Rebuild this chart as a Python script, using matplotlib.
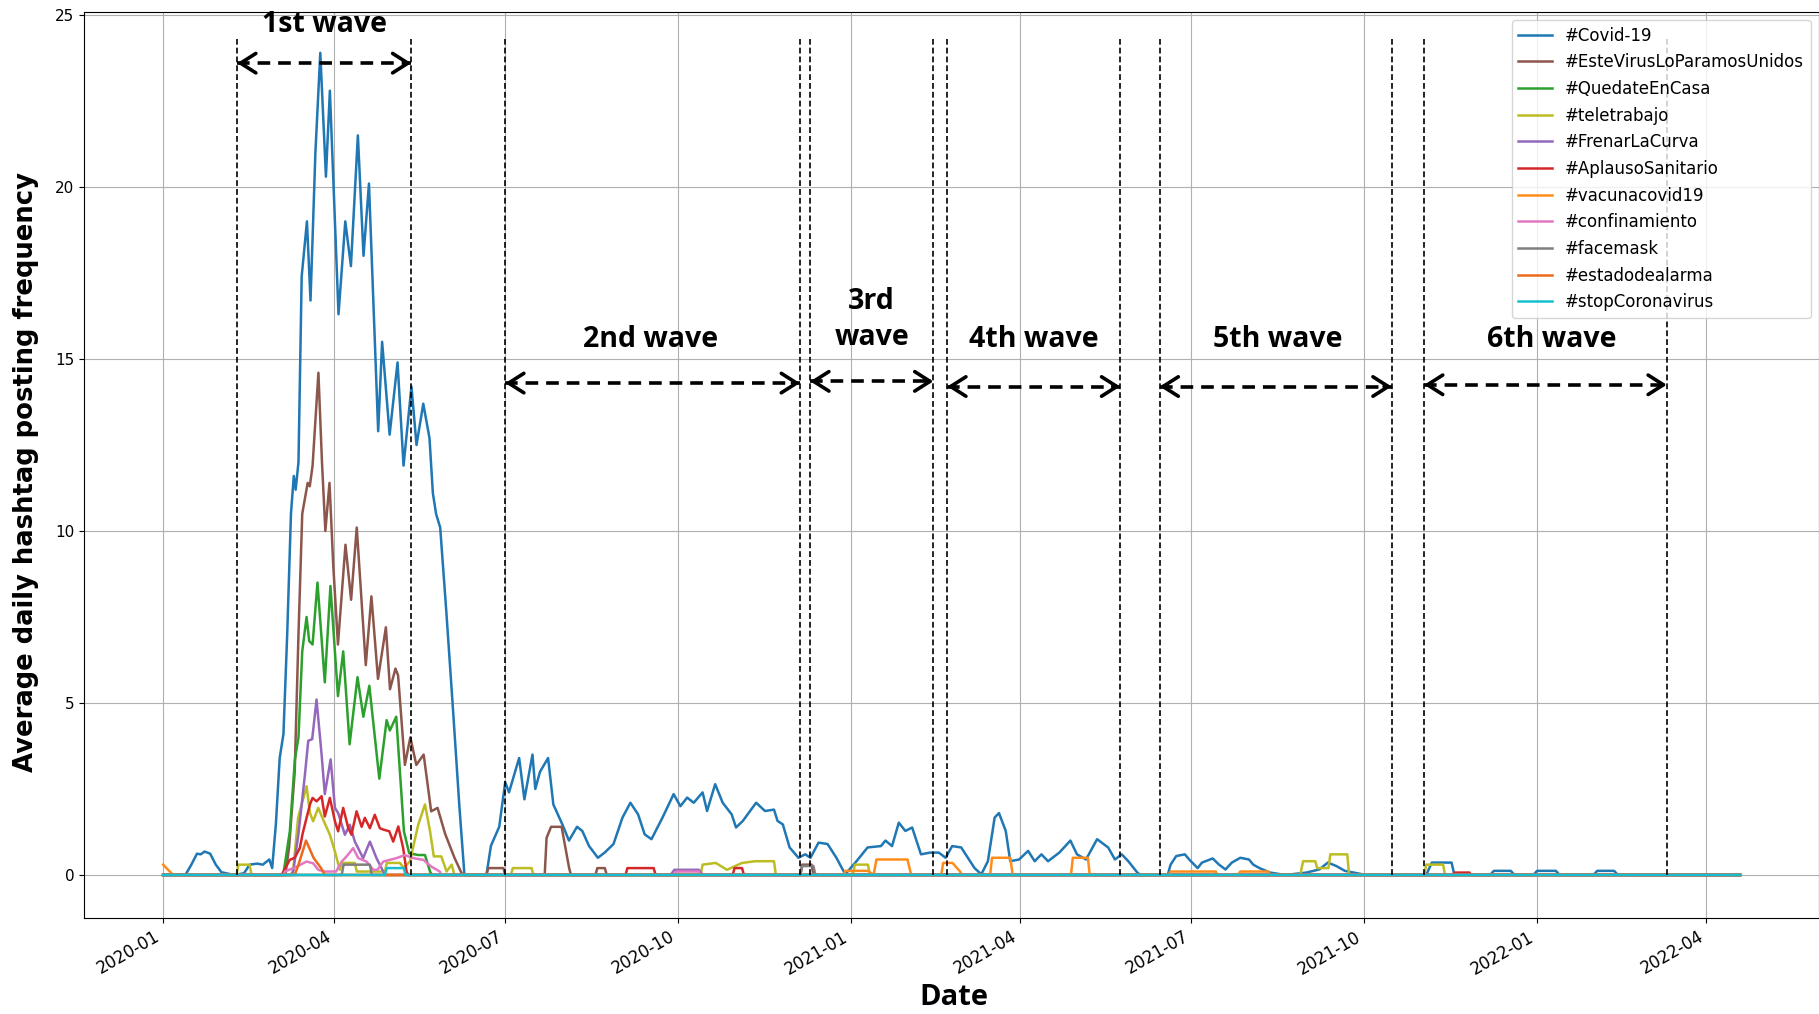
import matplotlib
matplotlib.use("Agg")
import matplotlib.pyplot as plt
import matplotlib.dates as mdates
import numpy as np
import pandas as pd

plt.rcParams['font.family'] = ['DejaVu Sans']

# data: (day since 2020-01-01, average daily frequency)
covid = [(0, 0.0), (12, 0.02), (15, 0.3), (18, 0.62), (20, 0.6), (22, 0.68), (25, 0.62), (28, 0.3),
         (31, 0.08), (36, 0.02), (40, 0.02), (43, 0.05), (46, 0.3), (50, 0.33), (53, 0.3), (56.5, 0.45),
         (58, 0.2), (60, 1.5), (62, 3.4), (64, 4.1), (66, 7.0), (68, 10.5), (69.5, 11.6), (70.5, 11.2),
         (72, 12.0), (73.7, 17.4), (76.5, 19.0), (78.4, 16.7), (81, 21.0), (83.6, 23.9), (86.6, 20.3),
         (88.7, 22.8), (93.3, 16.3), (96.9, 19.0), (99.9, 17.7), (103.6, 21.5), (106.6, 18.0),
         (109.5, 20.1), (114.4, 12.9), (116.5, 15.5), (120.5, 12.8), (124.7, 14.9), (127.9, 11.9),
         (132.1, 14.2), (134.8, 12.5), (138.4, 13.7), (141.7, 12.7), (143.5, 11.1), (145.2, 10.5),
         (147.4, 10.1), (150.6, 7.7), (154.1, 4.9), (157.6, 2.0), (160.3, 0.0), (172, 0.0),
         (174.4, 0.85), (178.8, 1.4), (182, 2.7), (184, 2.4), (189.4, 3.4), (192.2, 2.2), (196.5, 3.5),
         (198, 2.5), (200.5, 3.0), (204.8, 3.4), (207.6, 2.05), (212.4, 1.47), (215.9, 1.0), (220.2, 1.4),
         (223, 1.28), (226.6, 0.84), (231.3, 0.5), (234.9, 0.65), (239.6, 0.9), (244.4, 1.67),
         (248.6, 2.1), (252.7, 1.76), (256.2, 1.18), (259.8, 1.04), (265.7, 1.67), (271.6, 2.35),
         (275.2, 2.0), (278.8, 2.25), (282.3, 2.1), (287, 2.4), (289.4, 1.86), (293.7, 2.64),
         (297.7, 2.1), (302.5, 1.76), (304.8, 1.38), (308.4, 1.57), (315.5, 2.1), (320.2, 1.86),
         (325, 1.9), (326.9, 1.57), (329.7, 1.47), (333.3, 0.8), (338, 0.5), (341.6, 0.6), (344.4, 0.5),
         (348.7, 0.94), (353.5, 0.9), (358.2, 0.5), (362.9, 0.02), (368.9, 0.4), (374.8, 0.8),
         (381.9, 0.84), (384.3, 1.0), (387.8, 0.84), (391.4, 1.52), (394.9, 1.28), (398.5, 1.38),
         (403.2, 0.6), (408, 0.65), (412.7, 0.65), (416.3, 0.5), (419.8, 0.84), (424.6, 0.8),
         (431.7, 0.2), (435.3, 0.02), (438.8, 0.4), (442.4, 1.67), (444.7, 1.8), (448.3, 1.28),
         (450.7, 0.4), (455.4, 0.45), (460.2, 0.7), (463.7, 0.4), (467.3, 0.6), (470.8, 0.4),
         (476.8, 0.65), (482.7, 1.0), (486.2, 0.6), (491, 0.45), (496.9, 1.04), (502.8, 0.8),
         (506.4, 0.45), (510, 0.6), (513.5, 0.4), (518.3, 0.07), (520, 0.0), (534.5, 0.0), (536, 0.3),
         (539, 0.55), (543.6, 0.6), (545.9, 0.45), (550.4, 0.2), (552.7, 0.36), (558.4, 0.48),
         (561.8, 0.3), (565.2, 0.16), (568.6, 0.36), (573.1, 0.5), (577.7, 0.45), (580, 0.3),
         (583.3, 0.2), (589, 0.07), (597, 0.0), (608.3, 0.07), (615.1, 0.16), (619.7, 0.36),
         (624.2, 0.26), (628.7, 0.12), (633.3, 0.07), (637.8, 0.02), (640, 0.0), (672, 0.0),
         (675, 0.36), (685.5, 0.36), (687, 0.0), (706, 0.0), (708, 0.12), (717, 0.12), (719, 0.0),
         (729, 0.0), (731, 0.12), (741, 0.12), (743, 0.0), (761, 0.0), (763, 0.12), (772, 0.12),
         (774, 0.0), (839, 0.0)]

este_virus = [(0, 0), (65, 0), (67, 0.8), (70, 3.0), (72, 7.0), (74, 10.5), (76.9, 11.4), (78, 11.3),
              (79.5, 11.9), (82.6, 14.6), (84.5, 12.0), (86.3, 10.0), (88.5, 11.4), (90.5, 9.0),
              (93, 6.7), (97, 9.6), (100, 8.0), (103, 10.1), (107.8, 6.1), (110.8, 8.1), (114.3, 5.7),
              (118.5, 7.2), (120.7, 5.4), (123.6, 6.0), (125, 5.8), (128.6, 3.2), (131.5, 4.0),
              (134.7, 3.2), (138.6, 3.5), (142.6, 1.85), (146, 1.95), (150, 1.2), (155, 0.5),
              (158.8, 0.05), (160, 0), (172, 0), (173, 0.2), (181, 0.2), (182, 0), (203, 0),
              (204, 1.08), (206.4, 1.4), (212, 1.4), (216, 0.2), (217, 0), (230, 0), (231, 0.2),
              (235, 0.2), (236, 0), (339, 0), (340, 0.3), (345, 0.3), (346, 0), (839, 0)]

quedate = [(0, 0), (63.9, 0), (67.4, 1.27), (70.1, 3.36), (72, 4.0), (74, 6.5), (76.3, 7.5), (77.7, 6.8),
           (79.5, 6.7), (82.1, 8.5), (86, 5.6), (89, 8.4), (93, 5.2), (95.8, 6.5), (99.2, 3.8),
           (103.4, 5.75), (106.5, 4.6), (109.7, 5.5), (115, 2.8), (118.9, 4.5), (120.6, 4.2), (124, 4.6),
           (128.1, 1.27), (130.9, 0.63), (135.7, 0.58), (139.3, 0.58), (142, 0.1), (143, 0), (839, 0)]

teletrabajo = [(0, 0), (39, 0), (40, 0.3), (46, 0.3), (47, 0), (68, 0), (69.2, 0.15), (71.8, 1.66),
               (76.3, 2.58), (78.1, 1.8), (79.8, 1.56), (82.5, 1.95), (85.2, 1.6), (88.7, 1.17),
               (91.4, 0.68), (94, 0.15), (95, 0.35), (102, 0.35), (103, 0.1), (118, 0.1), (119, 0.35),
               (126, 0.35), (128, 0.2), (131.3, 0.4), (135.7, 1.46), (139.3, 2.05), (142, 1.27),
               (144, 0.54), (148, 0.54), (150.8, 0.1), (153.5, 0.3), (155, 0), (185, 0), (186, 0.2),
               (196, 0.2), (197, 0), (286, 0), (287, 0.3), (294, 0.35), (300, 0.15), (308, 0.35),
               (315, 0.4), (325, 0.4), (326, 0),
               (367, 0), (368, 0.3), (375, 0.3), (376, 0), (605, 0), (606.5, 0.4), (613, 0.4),
               (614, 0.2), (620, 0.2), (621, 0.6), (630, 0.6), (631, 0), (671, 0), (672, 0.3),
               (681, 0.3), (682, 0), (839, 0)]

frenar = [(0, 0), (68, 0), (69.2, 0.1), (72, 1.2), (75.4, 2.9), (77.2, 3.9), (79.3, 3.95), (81.6, 5.1),
          (84.3, 3.5), (86, 2.35), (89.1, 3.36), (91.4, 1.95), (93.1, 1.8), (96.7, 1.17), (99.3, 1.46),
          (102, 0.97), (106.4, 0.49), (110, 0.97), (113.5, 0.49), (117.1, 0.1), (118, 0), (270, 0),
          (272, 0.15), (285, 0.15), (287, 0), (839, 0)]

aplauso = [(0, 0), (63, 0), (64, 0.1), (67.4, 0.44), (70, 0.5), (72.7, 0.78), (74.2, 1.2), (76.3, 1.66),
           (78.1, 2.05), (79.5, 2.24), (81.6, 2.14), (84.3, 2.29), (86, 1.7), (88.7, 2.24), (91.4, 1.56),
           (93.1, 1.27), (95.8, 1.95), (98.5, 1.36), (100.2, 1.17), (102.9, 1.85), (105.6, 1.4),
           (107.3, 1.66), (110, 1.36), (112.6, 1.75), (115.3, 1.36), (117.1, 1.32), (120.3, 1.27),
           (122.4, 0.97), (125.1, 1.41), (127.7, 0.78), (129.5, 0.1), (130.5, 0), (246, 0), (247, 0.2),
           (261, 0.2), (262, 0), (303, 0), (304, 0.2), (308, 0.2), (309, 0), (686, 0), (687, 0.07),
           (695, 0.07), (696, 0), (839, 0)]

vacuna = [(0, 0.3), (3.5, 0.1), (5, 0.02), (6, 0), (362, 0), (363, 0.12), (375, 0.12), (378, 0),
          (379.5, 0.45), (396, 0.45), (398, 0), (414, 0), (415, 0.35), (420, 0.35), (424, 0.1), (425, 0),
          (440, 0), (441, 0.5), (450.7, 0.5), (452, 0), (483, 0), (484, 0.5), (492, 0.5), (493, 0),
          (535, 0), (536, 0.1), (560, 0.1), (561, 0), (572, 0), (573, 0.1), (588, 0.1), (589, 0), (839, 0)]

confinamiento = [(0, 0), (64, 0), (64.8, 0.1), (71, 0.24), (76.3, 0.39), (79.8, 0.34), (82.5, 0.15),
                 (86, 0.1), (92, 0.1), (95, 0.39), (97.6, 0.54), (101.1, 0.78), (103.8, 0.49),
                 (108.2, 0.39), (111.8, 0.15), (114, 0.15), (117.1, 0.39), (120.6, 0.44), (124.2, 0.49),
                 (128.6, 0.58), (133, 0.49), (138.4, 0.44), (142.8, 0.24), (147.2, 0.1), (148, 0),
                 (272, 0), (273, 0.1), (285, 0.1), (286, 0), (839, 0)]

facemask = [(0, 0), (95, 0), (96, 0.3), (110, 0.3), (111, 0), (339, 0), (340, 0.26), (346, 0.26),
            (347, 0), (839, 0)]

estado = [(0, 0), (70, 0), (72, 0.3), (76, 1.0), (80, 0.5), (84, 0.2), (86, 0), (839, 0)]

stop_corona = [(0, 0), (118, 0), (119, 0.2), (128, 0.2), (129, 0), (839, 0)]

series = [('#Covid-19', covid, '#1f77b4'),
          ('#EsteVirusLoParamosUnidos', este_virus, '#8c564b'),
          ('#QuedateEnCasa', quedate, '#2ca02c'),
          ('#teletrabajo', teletrabajo, '#bcbd22'),
          ('#FrenarLaCurva', frenar, '#9467bd'),
          ('#AplausoSanitario', aplauso, '#d62728'),
          ('#vacunacovid19', vacuna, '#ff8c1a'),
          ('#confinamiento', confinamiento, '#e377c2'),
          ('#facemask', facemask, '#7f7f7f'),
          ('#estadodealarma', estado, '#ec6a1c'),
          ('#stopCoronavirus', stop_corona, '#17becf')]

# wave boundaries (days since 2020-01-01)
wave_lines = [39.4, 132, 182, 338.8, 344.3, 409.8, 417.2, 509.2, 530.2, 653.6, 670.9, 800]
wave_spans = [(39.4, 132, 23.6), (182, 338.8, 14.3), (344.3, 409.8, 14.35),
              (417.2, 509.2, 14.2), (530.2, 653.6, 14.2), (670.9, 800, 14.25)]
wave_names = ['1st wave', '2nd wave', '3rd\nwave', '4th wave', '5th wave', '6th wave']
wave_text_pos = [(85.7, 24.73), (259.2, 15.57), (377, 16.15), (463.5, 15.57), (593.1, 15.57), (738.8, 15.57)]

start = pd.Timestamp('2020-01-01')


def to_date(d):
    return start + pd.to_timedelta(np.asarray(d, dtype=float), unit='D')


fig = plt.figure(figsize=(18.19, 10.14), dpi=100)
ax = fig.add_axes([0.0463, 0.0947, 0.9537, 0.8939])

for name, pts, col in series:
    days, vals = zip(*pts)
    ax.plot(to_date(days), vals, color=col, linewidth=1.8, label=name)

ax.vlines(to_date(wave_lines), 0, 24.3, colors='black', linestyles=(0, (3.5, 1.8)), linewidth=1.2)

for (a, b, y) in wave_spans:
    da, db = to_date([a, b])
    ax.plot([da, db], [y, y], color='black', linewidth=2.6, linestyle=(0, (3.5, 2.2)), solid_capstyle='butt')
    for tip, tail in ((a, a + 4), (b, b - 4)):
        ax.annotate('', xy=(to_date([tip])[0], y), xytext=(to_date([tail])[0], y),
                    arrowprops=dict(arrowstyle='->,head_length=0.55,head_width=0.35', lw=2.6,
                                    color='black', shrinkA=0, shrinkB=0, mutation_scale=20))

for name, (d, y) in zip(wave_names, wave_text_pos):
    ax.text(to_date([d])[0], y, name, ha='center', va='center', fontsize=20.5,
            fontweight='bold', family=['Open Sans', 'DejaVu Sans'], linespacing=1.35)

ax.set_xlim(to_date([-42])[0], to_date([881])[0])
ax.set_ylim(-1.25, 25.1)
ax.xaxis.set_major_locator(mdates.MonthLocator(bymonth=[1, 4, 7, 10]))
ax.xaxis.set_major_formatter(mdates.DateFormatter('%Y-%m'))
ax.set_yticks([0, 5, 10, 15, 20, 25])
plt.setp(ax.get_xticklabels(), rotation=30, ha='right', fontsize=12)
plt.setp(ax.get_yticklabels(), fontsize=11)
ax.grid(True)

ax.legend(loc='upper right', fontsize=12, labelspacing=0.52)

fig.text(0.0145, 0.5345, 'Average daily hashtag posting frequency', rotation=90, ha='center', va='center',
         fontsize=18.6, fontweight='bold', family=['DejaVu Sans'])
fig.text(0.5242, 0.016, 'Date', ha='center', va='center', fontsize=21, fontweight='bold',
         family=['Open Sans', 'DejaVu Sans'])

fig.savefig('out.png', dpi=100)
